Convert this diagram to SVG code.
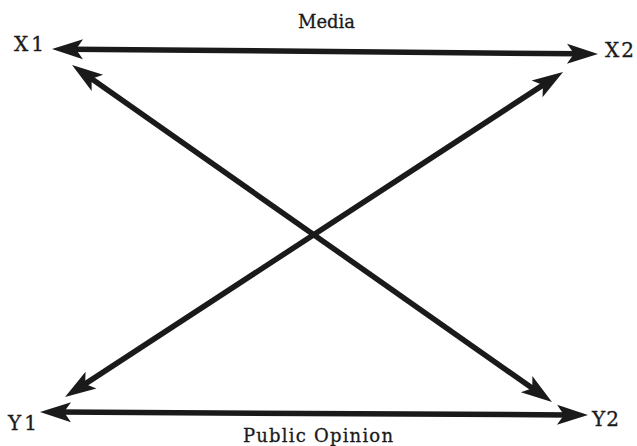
<svg xmlns="http://www.w3.org/2000/svg" width="637" height="446" viewBox="0 0 637 446">
<style>
.lbl{font-family:"DejaVu Serif","Liberation Serif",serif;fill:#1a1a1a;stroke:#1a1a1a;stroke-width:0.3}
.node{font-size:20px}
.cap{font-size:18px}
.con{stroke:#1a1a1a;stroke-width:5.5;fill:none;marker-start:url(#ah);marker-end:url(#ah)}
</style>
<defs>
<marker id="ah" markerUnits="userSpaceOnUse" markerWidth="36" markerHeight="24" viewBox="-33 -12 36 24" refX="-20" refY="0" orient="auto-start-reverse">
<path d="M0,0 L-31,-10 L-24,0 L-31,10 Z" fill="#1a1a1a"/>
</marker>
</defs>
<rect width="637" height="446" fill="#ffffff"/>
<g id="connectors">
<line class="con" x1="72" y1="49.2" x2="578" y2="53.8"/>
<line class="con" x1="88.4" y1="76.5" x2="535.6" y2="390.5"/>
<line class="con" x1="546.3" y1="82.9" x2="81.8" y2="386.1"/>
<line class="con" x1="60" y1="412.1" x2="568" y2="414.9"/>
</g>
<g id="X1"><text class="lbl node" x="14" y="51" textLength="30">X1</text></g>
<g id="X2"><text class="lbl node" x="605" y="57" textLength="29">X2</text></g>
<g id="Y1"><text class="lbl node" x="8" y="430" textLength="29">Y1</text></g>
<g id="Y2"><text class="lbl node" x="592" y="426" textLength="27">Y2</text></g>
<g id="media"><text class="lbl cap" x="298" y="28" textLength="57">Media</text></g>
<g id="public-opinion"><text class="lbl cap" x="243" y="442" textLength="150">Public Opinion</text></g>
</svg>
